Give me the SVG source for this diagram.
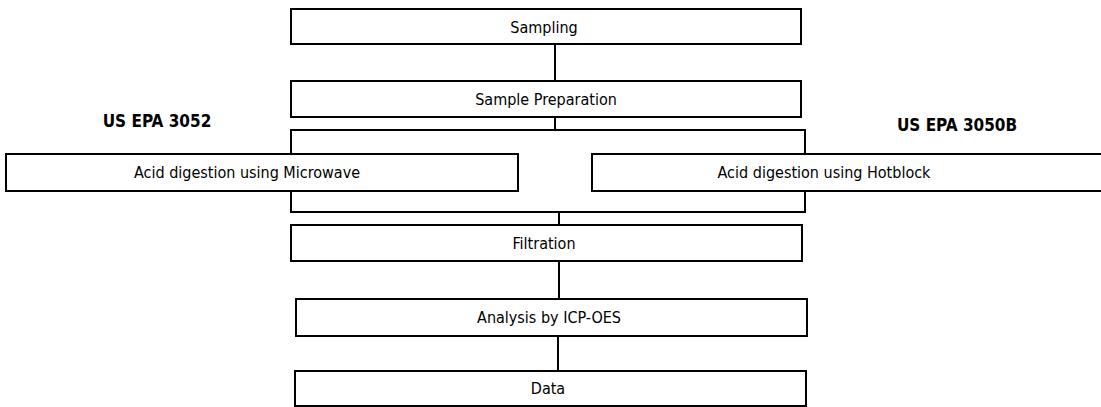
<svg xmlns="http://www.w3.org/2000/svg" width="1101" height="407" viewBox="0 0 1101 407">
<style>
.box{fill:#fff;stroke:#000;stroke-width:2}
.ln{fill:none;stroke:#000;stroke-width:2}
.t{font-family:"DejaVu Sans Condensed","DejaVu Sans",Verdana,sans-serif;font-stretch:condensed;font-size:16px;fill:#000;text-anchor:middle}
.b{font-family:"DejaVu Sans Condensed","DejaVu Sans",Verdana,sans-serif;font-stretch:condensed;font-size:17px;font-weight:bold;fill:#000;text-anchor:middle}
</style>
<rect width="1101" height="407" fill="#fff"/>
<g id="connectors">
<line class="ln" x1="555" y1="44" x2="555" y2="81"/>
<line class="ln" x1="555" y1="117" x2="555" y2="130"/>
<rect class="ln" x="291" y="130" width="514" height="82"/>
<line class="ln" x1="559" y1="212" x2="559" y2="225"/>
<line class="ln" x1="559" y1="261" x2="559" y2="299"/>
<line class="ln" x1="558" y1="336" x2="558" y2="371"/>
</g>
<g id="sampling">
<rect class="box" x="291" y="9" width="510" height="35"/>
<text class="t" x="544" y="33">Sampling</text>
</g>
<g id="sample-preparation">
<rect class="box" x="291" y="81" width="510" height="36"/>
<text class="t" x="546" y="105">Sample Preparation</text>
</g>
<g id="label-3052">
<text class="b" x="157" y="127">US EPA 3052</text>
</g>
<g id="label-3050b">
<text class="b" x="957" y="131">US EPA 3050B</text>
</g>
<g id="microwave">
<rect class="box" x="6" y="154" width="512" height="37"/>
<text class="t" x="247" y="178">Acid digestion using Microwave</text>
</g>
<g id="hotblock">
<rect class="box" x="592" y="154" width="520" height="37"/>
<text class="t" x="824" y="178">Acid digestion using Hotblock</text>
</g>
<g id="filtration">
<rect class="box" x="291" y="225" width="511" height="36"/>
<text class="t" x="544" y="249">Filtration</text>
</g>
<g id="analysis">
<rect class="box" x="296" y="299" width="511" height="37"/>
<text class="t" x="549" y="323">Analysis by ICP-OES</text>
</g>
<g id="data">
<rect class="box" x="295" y="371" width="511" height="35"/>
<text class="t" x="548" y="394">Data</text>
</g>
</svg>
